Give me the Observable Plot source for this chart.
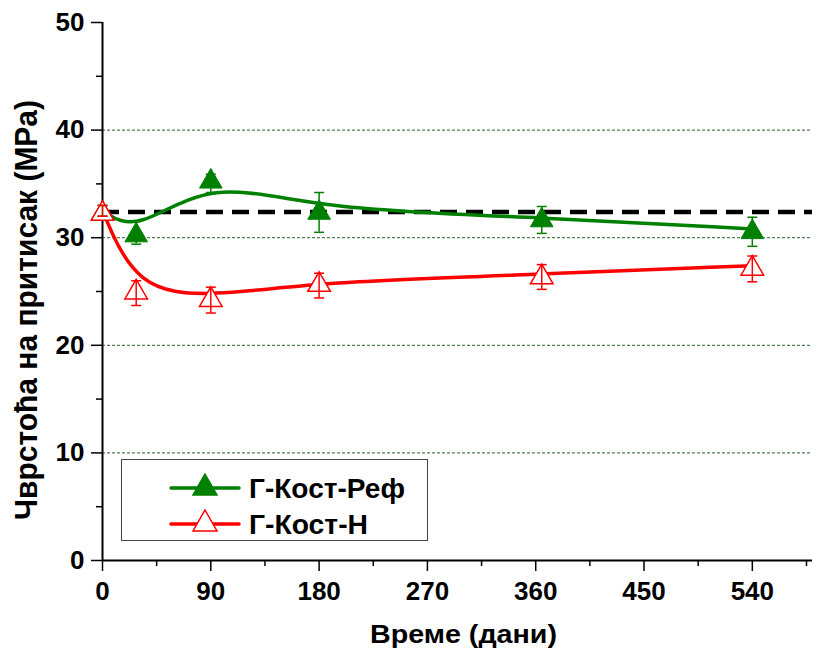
<!DOCTYPE html>
<html><head><meta charset="utf-8">
<script src="https://cdn.jsdelivr.net/npm/d3@7"></script>
<script src="https://cdn.jsdelivr.net/npm/@observablehq/plot@0.6"></script>
<style>
body{margin:0;background:#fff;font-family:"Liberation Sans",Arial,sans-serif;}
#wrap{position:relative;width:816px;height:662px;}
#legend{position:absolute;left:121px;top:459px;}
</style></head>
<body><div id="wrap"></div>
<script>
const days = [0, 28, 90, 180, 365, 540];
const refMean = [32.5, 30.5, 35.5, 32.6, 31.9, 30.8];
const refLo   = [32.0, 29.4, 34.2, 30.5, 30.4, 29.2];
const refHi   = [33.0, 31.5, 35.9, 34.2, 32.9, 31.9];
const nMean = [32.5, 25.2, 24.5, 25.9, 26.6, 27.4];
const nLo   = [32.0, 23.7, 23.0, 24.4, 25.2, 25.9];
const nHi   = [33.0, 26.0, 25.4, 26.7, 27.5, 28.3];
const refLevel = 32.4;
const seriesNames = ["Г-Кост-Реф", "Г-Кост-Н"];
const xTicks = [0, 90, 180, 270, 360, 450, 540];
const xMinor = [45, 135, 225, 315, 405, 495, 585];
const yTicks = [0, 10, 20, 30, 40, 50];
const yMinor = [5, 15, 25, 35, 45];
const xLabel = "Време (дани)";
const yLabel = "Чврстоћа на притисак (MPa)";

const green = "#008000", red = "#ff0000";
const ref = days.map((d, i) => ({x: d, y: refMean[i], lo: refLo[i], hi: refHi[i]}));
const nn = days.map((d, i) => ({x: d, y: nMean[i], lo: nLo[i], hi: nHi[i]}));
const cap = {draw(ctx, size){ const w = Math.sqrt(size/Math.PI); ctx.moveTo(-w,0); ctx.lineTo(w,0); }};
const font = '"Liberation Sans", Arial, sans-serif';

const chart = Plot.plot({
  width: 816, height: 662,
  marginLeft: 102, marginRight: 4, marginTop: 22, marginBottom: 102,
  style: {fontFamily: font, background: "#fff", overflow: "visible"},
  x: {domain: [0, 590]},
  y: {domain: [0, 50]},
  marks: [
    Plot.gridY({ticks: [10, 20, 30, 40], stroke: "#2a5f2a", strokeOpacity: 1, strokeWidth: 1, strokeDasharray: "3,2"}),
    Plot.axisX({ticks: xMinor, tickSize: 6, text: null, label: null, strokeWidth: 1.5}),
    Plot.axisY({ticks: yMinor, tickSize: 6, text: null, label: null, strokeWidth: 1.5}),
    Plot.axisX({ticks: xTicks, tickSize: 11, tickPadding: 10, label: null, fontSize: 26, fontWeight: "bold", strokeWidth: 1.5}),
    Plot.axisY({ticks: yTicks, tickSize: 11, tickPadding: 7, label: null, fontSize: 26, fontWeight: "bold", strokeWidth: 1.5}),
    Plot.ruleY([0], {stroke: "#000", strokeWidth: 2}),
    Plot.ruleX([0], {stroke: "#000", strokeWidth: 2}),
    Plot.ruleY([refLevel], {stroke: "#000", strokeWidth: 4.5, strokeDasharray: "17,9"}),
    Plot.line(ref, {x: "x", y: "y", curve: "basis", stroke: green, strokeWidth: 3.5}),
    Plot.line(nn, {x: "x", y: "y", curve: "basis", stroke: red, strokeWidth: 3.5}),
    Plot.dot(ref, {x: "x", y: "y", symbol: "triangle", r: 8.4, fill: green, stroke: green, strokeWidth: 1, dy: 3}),
    Plot.dot(nn, {x: "x", y: "y", symbol: "triangle", r: 8.4, fill: "#fff", stroke: red, strokeWidth: 1.5, dy: 3}),
    Plot.ruleX(ref, {x: "x", y1: "lo", y2: "hi", stroke: green, strokeWidth: 1.5}),
    Plot.dot(ref, {x: "x", y: "lo", symbol: cap, r: 5, stroke: green, strokeWidth: 1.5}),
    Plot.dot(ref, {x: "x", y: "hi", symbol: cap, r: 5, stroke: green, strokeWidth: 1.5}),
    Plot.ruleX(nn, {x: "x", y1: "lo", y2: "hi", stroke: red, strokeWidth: 1.5}),
    Plot.dot(nn, {x: "x", y: "lo", symbol: cap, r: 5, stroke: red, strokeWidth: 1.5}),
    Plot.dot(nn, {x: "x", y: "hi", symbol: cap, r: 5, stroke: red, strokeWidth: 1.5}),
    Plot.text([xLabel], {frameAnchor: "bottom", dx: 6, dy: 82, fontSize: 25, fontWeight: "bold", fill: "#000"})
  ]
});
const wrap = document.getElementById("wrap");
wrap.appendChild(chart);
d3.select(chart).selectAll("text")
  .filter(function(){ return this.textContent.includes("дани"); })
  .attr("textLength", 187).attr("lengthAdjust", "spacingAndGlyphs");

// y-axis title
d3.select(chart).append("text")
  .attr("transform", "translate(26,310) rotate(-90)")
  .attr("text-anchor", "middle").attr("dy", "0.36em")
  .attr("font-size", 31).attr("font-weight", "bold").attr("fill", "#000")
  .attr("font-family", font)
  .attr("textLength", 420).attr("lengthAdjust", "spacingAndGlyphs")
  .text(yLabel);

// legend
const lg = d3.select(wrap).append("svg").attr("id", "legend")
  .attr("width", 308).attr("height", 83).style("font-family", font);
lg.append("rect").attr("x", 0.5).attr("y", 0.5).attr("width", 306).attr("height", 81)
  .attr("fill", "#fff").attr("stroke", "#3c4a3c").attr("stroke-width", 1);
const entries = [
  {name: seriesNames[0], color: green, fill: green, len: 156},
  {name: seriesNames[1], color: red, fill: "#fff", len: 119}
];
entries.forEach((e, i) => {
  const y = 29 + i * 36;
  lg.append("line").attr("x1", 50).attr("x2", 118).attr("y1", y).attr("y2", y)
    .attr("stroke", e.color).attr("stroke-width", 3.5).attr("stroke-linecap", "round");
  lg.append("path").attr("d", `M84,${y-14} L96,${y+7} L72,${y+7} Z`)
    .attr("fill", e.fill).attr("stroke", e.color).attr("stroke-width", 1.5);
  lg.append("text").attr("x", 128).attr("y", y + 10).text(e.name)
    .attr("font-size", 28).attr("font-weight", "bold").attr("fill", "#000")
    .attr("textLength", e.len).attr("lengthAdjust", "spacingAndGlyphs");
});
</script></body></html>
